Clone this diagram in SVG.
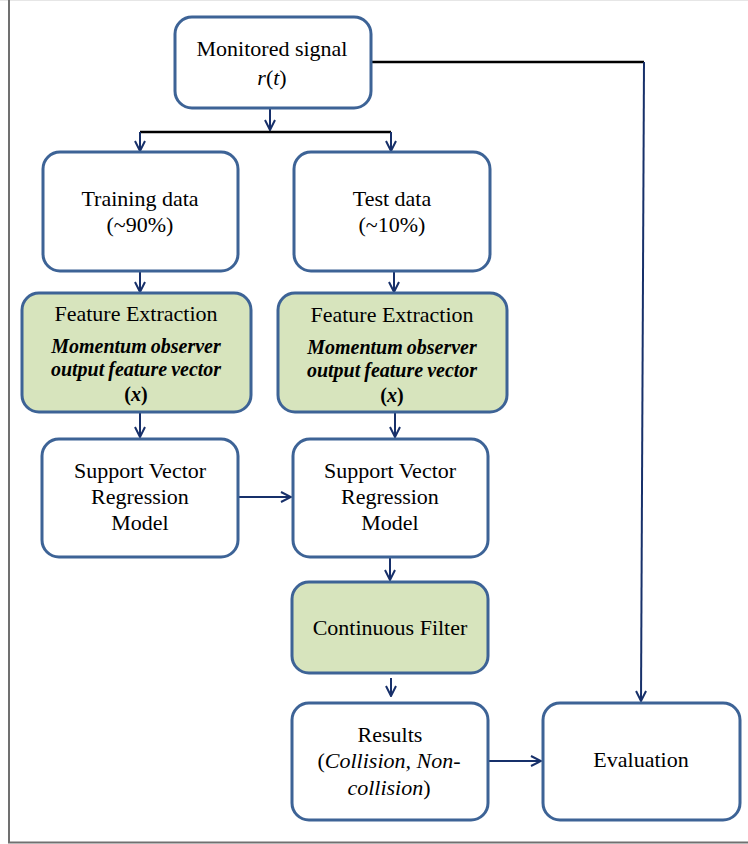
<svg xmlns="http://www.w3.org/2000/svg" width="748" height="844" viewBox="0 0 748 844">
<style>
.box{fill:#fff;stroke:#3d6396;stroke-width:3}
.green{fill:#d7e4bd}
.t{font-family:"Liberation Serif","Times New Roman",serif;font-size:22px;fill:#000;text-anchor:middle}
.bi{font-family:"Liberation Serif","Times New Roman",serif;font-size:20px;font-weight:bold;font-style:italic;fill:#000;text-anchor:middle;word-spacing:-1px}
.up{font-style:normal}
.c{fill:none;stroke:#17306a;stroke-width:2}
.k{fill:none;stroke:#000;stroke-width:2.5}
</style>
<defs>
<marker id="ah" viewBox="0 0 12 12" refX="11" refY="6" markerWidth="12" markerHeight="12" markerUnits="userSpaceOnUse" orient="auto">
<path d="M1,1 L11,6 L1,11" fill="none" stroke="#17306a" stroke-width="2"/>
</marker>
</defs>
<rect x="0" y="0" width="748" height="844" fill="#fff"/>
<line x1="0" y1="0.5" x2="748" y2="0.5" stroke="#e6e6e6" stroke-width="1"/>
<line x1="9" y1="0" x2="9" y2="843" stroke="#707070" stroke-width="2"/>
<line x1="8" y1="842.5" x2="748" y2="842.5" stroke="#707070" stroke-width="2"/>

<g id="connectors">
<path class="k" d="M258,62 L644,62"/>
<path class="c" d="M644,62 L641,701" marker-end="url(#ah)"/>
<path class="c" d="M270,108 L270,130" marker-end="url(#ah)"/>
<path class="k" d="M140,132 L391,132"/>
<path class="c" d="M140,132 L140,151" marker-end="url(#ah)"/>
<path class="c" d="M391,132 L391,151" marker-end="url(#ah)"/>
<path class="c" d="M140,271 L140,292" marker-end="url(#ah)"/>
<path class="c" d="M394,271 L394,292" marker-end="url(#ah)"/>
<path class="c" d="M140,412 L140,437" marker-end="url(#ah)"/>
<path class="c" d="M395,412 L395,437" marker-end="url(#ah)"/>
<path class="c" d="M238,497 L291,497" marker-end="url(#ah)"/>
<path class="c" d="M390,557 L390,580" marker-end="url(#ah)"/>
<path class="c" d="M391,678 L391,696" marker-end="url(#ah)"/>
<path class="c" d="M488,761 L541,761" marker-end="url(#ah)"/>
</g>

<g id="monitored">
<rect class="box" x="175" y="17" width="196" height="91" rx="17"/>
<text class="t" x="272" y="56">Monitored signal</text>
<text class="t" x="272" y="85"><tspan font-style="italic">r</tspan>(<tspan font-style="italic">t</tspan>)</text>
</g>

<g id="training">
<rect class="box" x="43" y="152" width="195" height="119" rx="17"/>
<text class="t" x="140" y="206">Training  data</text>
<text class="t" x="140" y="232">(~90%)</text>
</g>

<g id="test">
<rect class="box" x="294" y="152" width="196" height="119" rx="17"/>
<text class="t" x="392" y="206">Test data</text>
<text class="t" x="392" y="232">(~10%)</text>
</g>

<g id="fe-left">
<rect class="box green" x="22" y="293" width="229" height="119" rx="17"/>
<text class="t" x="136" y="321">Feature Extraction</text>
<text class="bi" x="136" y="353">Momentum observer</text>
<text class="bi" x="136" y="376">output feature vector</text>
<text class="bi" x="136" y="401"><tspan class="up">(</tspan>x<tspan class="up">)</tspan></text>
</g>

<g id="fe-right">
<rect class="box green" x="278" y="293" width="229" height="119" rx="17"/>
<text class="t" x="392" y="322">Feature Extraction</text>
<text class="bi" x="392" y="354">Momentum observer</text>
<text class="bi" x="392" y="377">output feature vector</text>
<text class="bi" x="392" y="402"><tspan class="up">(</tspan>x<tspan class="up">)</tspan></text>
</g>

<g id="svr-left">
<rect class="box" x="42" y="439" width="196" height="118" rx="17"/>
<text class="t" x="140" y="478">Support  Vector</text>
<text class="t" x="140" y="504">Regression</text>
<text class="t" x="140" y="530">Model</text>
</g>

<g id="svr-right">
<rect class="box" x="293" y="439" width="195" height="118" rx="17"/>
<text class="t" x="390" y="478">Support  Vector</text>
<text class="t" x="390" y="504">Regression</text>
<text class="t" x="390" y="530">Model</text>
</g>

<g id="filter">
<rect class="box green" x="292" y="582" width="196" height="91" rx="17"/>
<text class="t" x="390" y="635">Continuous Filter</text>
</g>

<g id="results">
<rect class="box" x="292" y="703" width="196" height="117" rx="17"/>
<text class="t" x="390" y="742">Results</text>
<text class="t" x="389" y="768">(<tspan font-style="italic">Collision, Non-</tspan></text>
<text class="t" x="389" y="795"><tspan font-style="italic">collision</tspan>)</text>
</g>

<g id="evaluation">
<rect class="box" x="543" y="703" width="197" height="117" rx="17"/>
<text class="t" x="641" y="767">Evaluation</text>
</g>
</svg>
